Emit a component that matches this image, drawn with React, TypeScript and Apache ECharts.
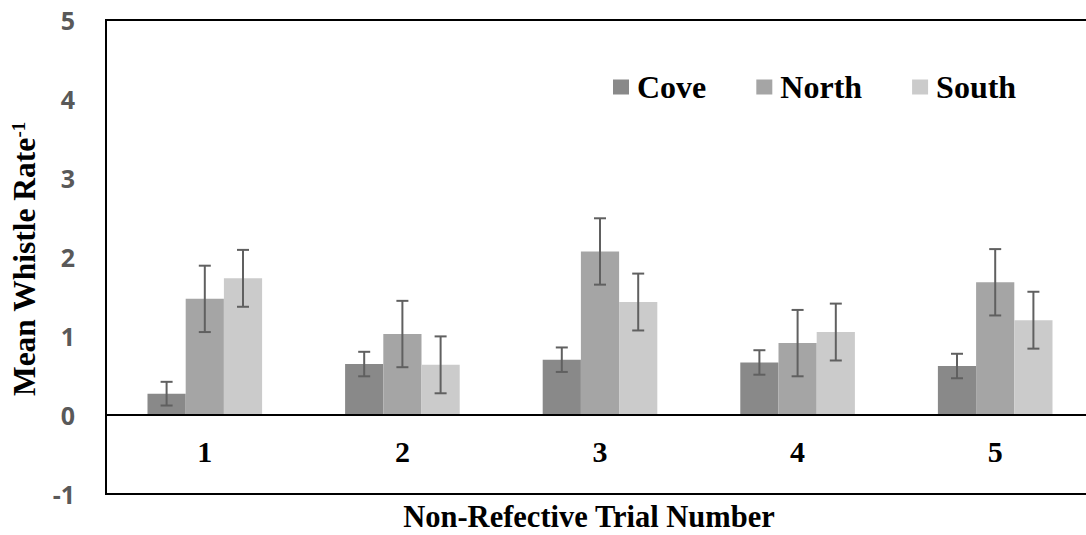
import React, { useEffect, useRef } from "react";
import * as echarts from "echarts";

const categories = ["1", "2", "3", "4", "5"];
const seriesNames = ["Cove", "North", "South"];
const cove = [0.27, 0.645, 0.7, 0.665, 0.62];
const north = [1.47, 1.025, 2.07, 0.91, 1.68];
const south = [1.73, 0.635, 1.43, 1.05, 1.2];
const coveErr = [0.15, 0.155, 0.155, 0.155, 0.155];
const northErr = [0.42, 0.42, 0.42, 0.42, 0.42];
const southErr = [0.36, 0.36, 0.36, 0.36, 0.36];
const yTicks = [-1, 0, 1, 2, 3, 4, 5];

const colors = ["#898989", "#a5a5a5", "#cbcbcb"];
const SERIF = "'Liberation Serif', 'Times New Roman', serif";
const CAT_GAP = 0.42;

export default function App() {
  const ref = useRef<HTMLDivElement>(null);
  useEffect(() => {
    if (!ref.current) return;
    const chart = echarts.init(ref.current, null, { renderer: "svg" });
    const values = [cove, north, south];
    const errs = [coveErr, northErr, southErr];

    const barSeries = values.map((vals, k) => ({
      name: seriesNames[k],
      type: "bar",
      data: vals,
      barGap: "0%",
      barCategoryGap: CAT_GAP * 100 + "%",
      itemStyle: { color: colors[k] },
      markLine:
        k === 0
          ? {
              silent: true,
              symbol: "none",
              label: { show: false },
              lineStyle: { color: "#000", width: 2, type: "solid" },
              data: [{ yAxis: 0 }],
            }
          : undefined,
    }));

    const errSeries = values.map((vals, k) => ({
      name: seriesNames[k] + " error",
      type: "custom",
      z: 5,
      encode: { x: 0, y: [1, 2] },
      data: vals.map((v, i) => [i, v - errs[k][i], v + errs[k][i]]),
      renderItem: (params: any, api: any) => {
        const idx = api.value(0);
        const lo = api.value(1);
        const hi = api.value(2);
        const band = api.size([1, 0])[0];
        const bw = (band * (1 - CAT_GAP)) / 3;
        const off = (k - 1) * bw;
        const pHi = api.coord([idx, hi]);
        const pLo = api.coord([idx, lo]);
        const x = pHi[0] + off;
        const cap = 6;
        const style = { stroke: "#606060", lineWidth: 2 };
        return {
          type: "group",
          children: [
            { type: "line", shape: { x1: x, y1: pHi[1], x2: x, y2: pLo[1] }, style },
            { type: "line", shape: { x1: x - cap, y1: pHi[1], x2: x + cap, y2: pHi[1] }, style },
            { type: "line", shape: { x1: x - cap, y1: pLo[1], x2: x + cap, y2: pLo[1] }, style },
          ],
        };
      },
    }));

    chart.setOption({
      animation: false,
      grid: {
        left: 106,
        top: 20,
        width: 988,
        height: 474,
        show: true,
        borderColor: "#000",
        borderWidth: 2,
        containLabel: false,
        outerBoundsMode: "none",
      },
      legend: {
        data: seriesNames,
        left: 613,
        top: 71,
        padding: 0,
        icon: "rect",
        itemWidth: 16,
        itemHeight: 15,
        itemGap: 50,
        textStyle: {
          fontFamily: SERIF,
          fontWeight: "bold",
          fontSize: 32,
          color: "#000",
          padding: [0, 0, 0, 3],
        },
      },
      xAxis: {
        type: "category",
        data: categories,
        axisLine: { show: false, onZero: false },
        axisTick: { show: false },
        axisLabel: {
          margin: -58,
          fontFamily: SERIF,
          fontWeight: "bold",
          fontSize: 30,
          color: "#000",
        },
        splitLine: { show: false },
      },
      yAxis: {
        type: "value",
        min: yTicks[0],
        max: yTicks[yTicks.length - 1],
        interval: 1,
        axisLine: { show: false },
        axisTick: { show: false },
        splitLine: { show: false },
        axisLabel: {
          margin: 31,
          fontFamily: "'Open Sans', sans-serif",
          fontWeight: "bold",
          fontSize: 25,
          color: "#595959",
        },
      },
      graphic: [
        {
          type: "text",
          x: 24,
          y: 259,
          rotation: Math.PI / 2,
          style: {
            text: "{a|Mean Whistle Rate}{b|-1}",
            align: "center",
            verticalAlign: "middle",
            rich: {
              a: { fontFamily: SERIF, fontWeight: "bold", fontSize: 31.5, fill: "#000", lineHeight: 31 },
              b: { fontFamily: SERIF, fontWeight: "bold", fontSize: 19, fill: "#000", verticalAlign: "top", lineHeight: 31 },
            },
          },
        },
        {
          type: "text",
          x: 589,
          y: 517,
          style: {
            text: "Non-Refective Trial Number",
            align: "center",
            verticalAlign: "middle",
            fontFamily: SERIF,
            fontWeight: "bold",
            fontSize: 30.5,
            fill: "#000",
          },
        },
      ],
      series: [...barSeries, ...errSeries],
    });
    return () => chart.dispose();
  }, []);
  return (
    <div
      ref={ref}
      style={{ position: "fixed", left: 0, top: 0, width: 1086, height: 535, background: "#fff" }}
    />
  );
}
